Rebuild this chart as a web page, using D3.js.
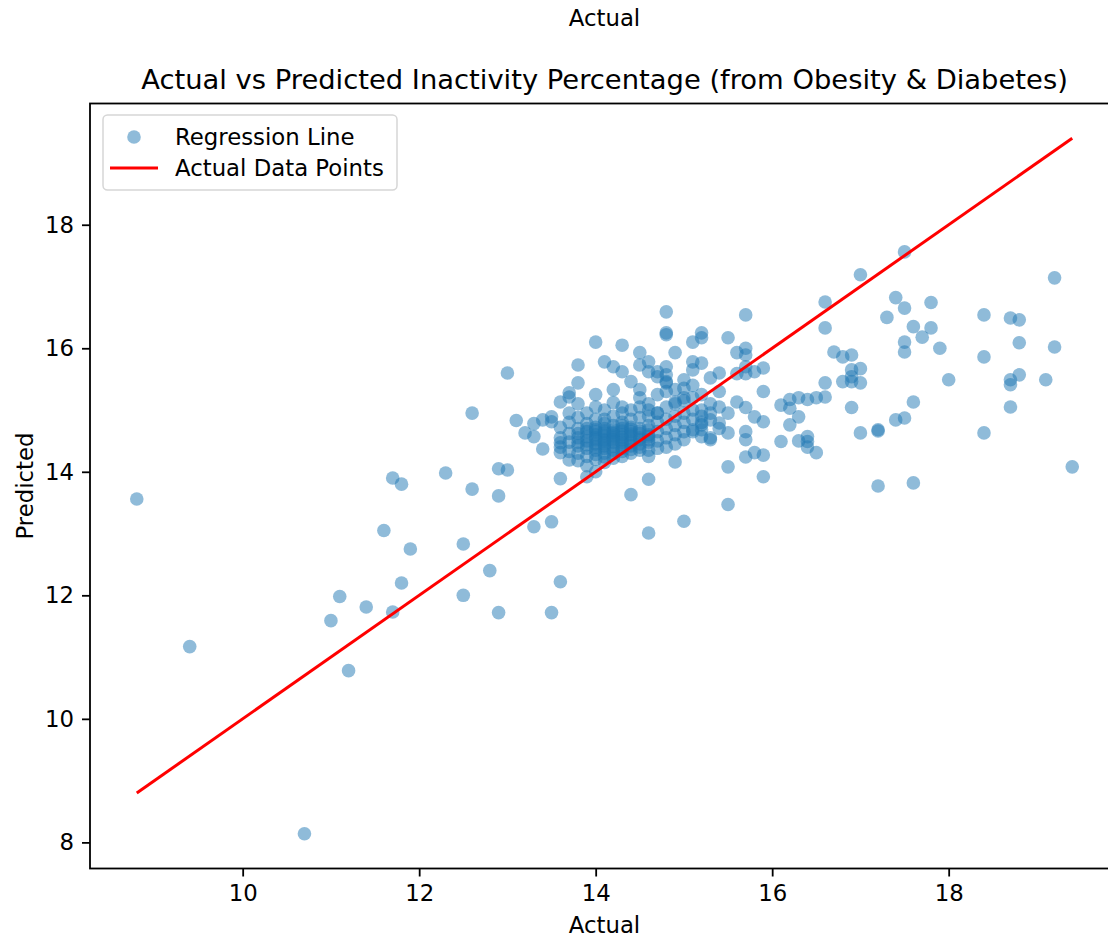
<!DOCTYPE html>
<meta charset="utf-8">
<title>Actual vs Predicted Inactivity Percentage</title>
<style>
body { margin: 0; background: white; }
svg { font-family: 'DejaVu Sans', sans-serif; display: block; }
</style>
<body>
<script src="https://d3js.org/d3.v7.min.js"></script>
<script>

// values (actual %, predicted %), same order in both arrays
const actual = [
  // left, sparse
  8.8, 9.4, 10.7, 11.0, 11.1, 11.2, 11.4, 11.6, 11.7, 11.7, 11.8, 11.8, 11.9, 12.3, 12.5, 12.5,
  12.6, 12.6, 12.8, 12.9, 12.9, 12.9, 13.0, 13.0, 13.3, 13.5, 13.5, 13.6, 13.6,
  // edge of the cluster
  13.1, 13.2, 13.3, 13.3, 13.4, 13.4, 13.5, 13.5, 13.6, 13.7, 13.8, 13.8, 13.6, 13.6, 13.7, 13.9,
  14.0, 14.0, 14.2, 14.1, 14.0, 14.3, 14.2, 14.3, 14.5, 14.5, 14.6, 14.4, 14.5, 14.7, 14.8, 14.9,
  15.0, 14.8, 14.8, 14.8, 13.7, 13.8, 14.6, 14.4, 15.0, 14.6, 14.9,
  // right of the cluster
  15.0, 15.1, 15.2, 15.3, 15.5, 15.5, 15.5, 15.7, 15.7, 15.8, 15.9, 15.7, 15.9, 15.6, 15.7, 15.8,
  15.9, 15.4, 15.3, 15.2, 14.6, 14.7, 14.9, 15.0, 15.1, 15.2, 15.4, 15.5, 15.3, 15.2, 15.1, 14.8,
  14.6, 14.6, 14.7, 14.8, 14.8, 14.8, 14.9,
  // 15 - 16, upper
  15.1, 15.2, 15.2, 15.5, 15.7, 15.6, 15.7, 15.7, 15.9, 15.9, 15.8, 15.7, 15.6, 15.7, 15.4, 15.3,
  15.1, 15.1, 15.2,
  // 16 - 17
  16.1, 16.2, 16.3, 16.2, 16.4, 16.3, 16.2, 16.1, 16.3, 16.4, 16.4, 16.4, 16.5, 16.5, 16.6, 16.6,
  16.6, 16.6, 16.7, 16.8, 16.9, 16.9, 17.0, 16.8, 16.9, 17.0, 16.9, 16.9, 17.0, 17.2, 17.2,
  // far right
  17.2, 17.6, 17.4, 17.5, 17.6, 17.0, 17.5, 17.4, 17.5, 17.8, 17.3, 17.6, 17.8, 17.7, 17.5, 17.5,
  17.9, 18.0, 18.4, 18.7, 18.8, 18.8, 19.2, 19.2, 18.4, 18.7, 18.7, 18.8, 19.1, 18.7, 18.4, 19.4,
  // dense core
  13.6, 13.6, 13.6,
  13.7, 13.7, 13.7, 13.7, 13.7,
  13.8, 13.8, 13.8, 13.8, 13.8, 13.8,
  13.9, 13.9, 13.9, 13.9, 13.9, 13.9, 13.9,
  14.0, 14.0, 14.0, 14.0, 14.0, 14.0, 14.0, 14.0, 14.0,
  14.1, 14.1, 14.1, 14.1, 14.1, 14.1, 14.1, 14.1, 14.1, 14.1,
  14.2, 14.2, 14.2, 14.2, 14.2, 14.2, 14.2, 14.2, 14.2,
  14.3, 14.3, 14.3, 14.3, 14.3, 14.3, 14.3, 14.3, 14.3,
  14.4, 14.4, 14.4, 14.4, 14.4, 14.4, 14.4, 14.4,
  14.5, 14.5, 14.5, 14.5, 14.5, 14.5, 14.5, 14.5,
  14.6, 14.6, 14.6, 14.6, 14.6, 14.6, 14.6,
  14.7, 14.7, 14.7, 14.7, 14.7, 14.7,
  14.8, 14.8, 14.8, 14.8, 14.8,
  14.9, 14.9, 14.9, 14.9, 14.9,
  15.0, 15.0, 15.0, 15.0, 15.0,
  15.1, 15.1, 15.1,
  15.2, 15.2, 15.2,
  15.3, 15.3,
  15.4, 15.4,
  // darkest middle of the core
  13.8, 13.8,
  13.9, 13.9, 13.9,
  14.0, 14.0, 14.0, 14.0,
  14.1, 14.1, 14.1, 14.1, 14.1,
  14.2, 14.2, 14.2, 14.2, 14.2,
  14.3, 14.3, 14.3, 14.3, 14.3,
  14.4, 14.4, 14.4, 14.4,
  14.5, 14.5, 14.5,
  14.6, 14.6
];

const predicted = [
  // left, sparse
  13.56, 11.17, 8.14, 11.59, 11.98, 10.78, 11.81, 13.05, 13.90, 11.73, 13.80, 12.20, 12.75, 13.98, 12.83, 12.00,
  13.72, 14.95, 12.40, 14.05, 13.61, 11.72, 14.03, 15.60, 13.11, 13.19, 11.72, 12.22, 13.89,
  // edge of the cluster
  14.83, 14.63, 14.78, 14.57, 14.84, 14.37, 14.89, 14.81, 15.13, 15.21, 15.44, 15.73, 14.47, 14.31, 14.19, 13.92,
  14.00, 15.25, 15.33, 15.78, 16.10, 16.05, 15.70, 15.62, 15.93, 15.73, 15.78, 15.46, 15.33, 15.62, 15.44, 15.93,
  15.49, 16.59, 16.25, 16.22, 15.28, 15.10, 13.88, 13.63, 13.20, 13.01, 14.16,
  // right of the cluster
  14.52, 14.68, 14.57, 14.52, 14.63, 14.08, 13.47, 14.65, 14.52, 14.31, 14.27, 14.24, 13.92, 15.13, 15.04, 14.89,
  14.81, 14.79, 14.55, 14.68, 15.00, 14.95, 15.13, 15.20, 15.00, 15.00, 15.05, 14.95, 14.84, 14.76, 14.65, 14.40,
  14.52, 15.62, 15.54, 15.46, 15.57, 15.70, 15.33,
  // 15 - 16, upper
  16.10, 16.25, 16.17, 16.17, 16.54, 15.93, 16.00, 15.89, 15.68, 15.30, 15.62, 15.59, 15.59, 15.70, 15.60, 15.52,
  15.78, 15.65, 15.76,
  // 16 - 17
  15.08, 15.17, 15.20, 15.03, 15.17, 14.89, 14.76, 14.49, 14.50, 14.49, 14.40, 14.57, 14.31, 15.20, 15.21, 15.44,
  16.75, 16.33, 15.94, 15.86, 15.89, 15.65, 15.67, 15.46, 15.46, 15.44, 15.54, 15.04, 14.63, 14.68, 14.66,
  // far right
  13.77, 13.82, 14.84, 14.87, 15.13, 17.19, 17.56, 16.82, 16.65, 16.74, 16.50, 16.35, 16.33, 16.18, 16.10, 15.94,
  16.00, 15.49, 16.54, 16.49, 16.46, 16.09, 17.14, 16.02, 15.86, 15.49, 15.41, 15.57, 15.49, 15.05, 14.63, 14.08,
  // dense core
  14.55, 14.72, 14.40,
  14.62, 14.48, 14.80, 14.33, 14.95,
  14.70, 14.55, 14.42, 14.30, 14.88, 14.18,
  14.65, 14.50, 14.78, 14.38, 14.25, 14.95, 14.10,
  14.60, 14.45, 14.72, 14.35, 14.85, 14.52, 14.20, 15.05, 14.65,
  14.58, 14.42, 14.70, 14.30, 14.85, 14.50, 14.63, 14.15, 15.00, 14.38,
  14.62, 14.48, 14.75, 14.35, 14.90, 14.55, 14.22, 14.68, 15.12,
  14.60, 14.45, 14.80, 14.38, 14.95, 14.52, 14.70, 14.25, 15.05,
  14.65, 14.50, 14.85, 14.42, 14.72, 14.30, 15.00, 14.58,
  14.70, 14.55, 14.88, 14.45, 15.05, 14.35, 14.62, 15.20,
  14.75, 14.60, 14.90, 14.48, 15.10, 14.35, 14.25,
  14.80, 14.65, 14.95, 14.50, 15.25, 14.38,
  14.85, 14.70, 15.05, 14.55, 15.30,
  14.90, 14.75, 15.10, 14.60, 14.45,
  14.95, 14.80, 15.15, 14.65, 15.35,
  14.85, 15.20, 15.40,
  14.90, 15.25, 14.80,
  15.10, 14.95,
  15.30, 14.70,
  // darkest middle of the core
  14.62, 14.48,
  14.57, 14.44, 14.70,
  14.55, 14.40, 14.68, 14.28,
  14.52, 14.66, 14.46, 14.78, 14.24,
  14.58, 14.41, 14.64, 14.52, 14.30,
  14.56, 14.66, 14.48, 14.33, 14.75,
  14.61, 14.47, 14.36, 14.69,
  14.52, 14.66, 14.40,
  14.57, 14.68
];

// red line runs from min to max of actual (y = x)
const lineEnds = [8.8, 19.4];

const xTicks = [10, 12, 14, 16, 18];
const yTicks = [8, 10, 12, 14, 16, 18];

const legendLabels = ["Regression Line", "Actual Data Points"];

const W = 1108, H = 939;
const mLeft = 90, mTop = 103.5;
const plotW = 1029, plotH = 765;
const fs = 22.8;

const svg = d3.select("body").append("svg")
    .attr("width", W)
    .attr("height", H);

// matplotlib style 5% padding
function padded(lo, hi) {
  const p = (hi - lo) * 0.05;
  return [lo - p, hi + p];
}

const points = actual.map((a, i) => ({a: a, p: predicted[i]}));

const x = d3.scaleLinear()
    .domain(padded(d3.min(actual.concat(lineEnds)), d3.max(actual.concat(lineEnds))))
    .range([mLeft, mLeft + plotW]);

const y = d3.scaleLinear()
    .domain(padded(d3.min(predicted.concat(lineEnds)), d3.max(predicted.concat(lineEnds))))
    .range([mTop + plotH, mTop]);

// axes
const xAxis = svg.append("g")
    .attr("transform", "translate(0," + (mTop + plotH) + ")")
    .call(d3.axisBottom(x).tickValues(xTicks).tickSize(8).tickPadding(8).tickFormat(d3.format("d")));

const yAxis = svg.append("g")
    .attr("transform", "translate(" + mLeft + ",0)")
    .call(d3.axisLeft(y).tickValues(yTicks).tickSize(8).tickPadding(8).tickFormat(d3.format("d")));

[xAxis, yAxis].forEach(g => {
  g.select(".domain").remove();
  g.selectAll("line").attr("stroke", "#000").attr("stroke-width", 1.8);
  g.selectAll("text")
    .attr("fill", "#000")
    .style("font-size", fs + "px")
    .style("font-family", "'DejaVu Sans', sans-serif");
});

// scatter
svg.append("g")
  .selectAll("circle")
  .data(points)
  .enter().append("circle")
    .attr("cx", d => x(d.a))
    .attr("cy", d => y(d.p))
    .attr("r", 6.8)
    .attr("fill", "#1f77b4")
    .attr("fill-opacity", 0.5);

// line
svg.append("path")
    .datum(lineEnds)
    .attr("fill", "none")
    .attr("stroke", "#ff0000")
    .attr("stroke-width", 3)
    .attr("d", d3.line().x(d => x(d)).y(d => y(d)));

// frame
svg.append("rect")
    .attr("x", mLeft)
    .attr("y", mTop)
    .attr("width", plotW)
    .attr("height", plotH)
    .attr("fill", "none")
    .attr("stroke", "#000")
    .attr("stroke-width", 1.8);

// titles
const midX = mLeft + plotW / 2;

svg.append("text")
    .attr("x", midX)
    .attr("y", 89)
    .attr("text-anchor", "middle")
    .style("font-size", (fs * 1.2) + "px")
    .text("Actual vs Predicted Inactivity Percentage (from Obesity & Diabetes)");

svg.append("text")
    .attr("x", midX)
    .attr("y", 933)
    .attr("text-anchor", "middle")
    .style("font-size", fs + "px")
    .text("Actual");

// stray label left over at the very top
svg.append("text")
    .attr("x", midX)
    .attr("y", 26)
    .attr("text-anchor", "middle")
    .style("font-size", fs + "px")
    .text("Actual");

svg.append("text")
    .attr("transform", "translate(33," + (mTop + plotH / 2) + ") rotate(-90)")
    .attr("text-anchor", "middle")
    .style("font-size", fs + "px")
    .text("Predicted");

// legend
const lg = svg.append("g");
lg.append("rect")
    .attr("x", 103).attr("y", 115)
    .attr("width", 294).attr("height", 75)
    .attr("rx", 4.5)
    .attr("fill", "white").attr("fill-opacity", 0.8)
    .attr("stroke", "#d6d6d6").attr("stroke-width", 1.5);

lg.append("circle")
    .attr("cx", 134).attr("cy", 137)
    .attr("r", 6.8)
    .attr("fill", "#1f77b4").attr("fill-opacity", 0.5);

lg.append("line")
    .attr("x1", 110).attr("x2", 158)
    .attr("y1", 168).attr("y2", 168)
    .attr("stroke", "#ff0000").attr("stroke-width", 3);

lg.selectAll("text.lab")
  .data(legendLabels)
  .enter().append("text")
    .attr("class", "lab")
    .attr("x", 175)
    .attr("y", (d, i) => 137 + i * 31)
    .attr("dy", "0.35em")
    .style("font-size", fs + "px")
    .text(d => d);

</script>
</body>
